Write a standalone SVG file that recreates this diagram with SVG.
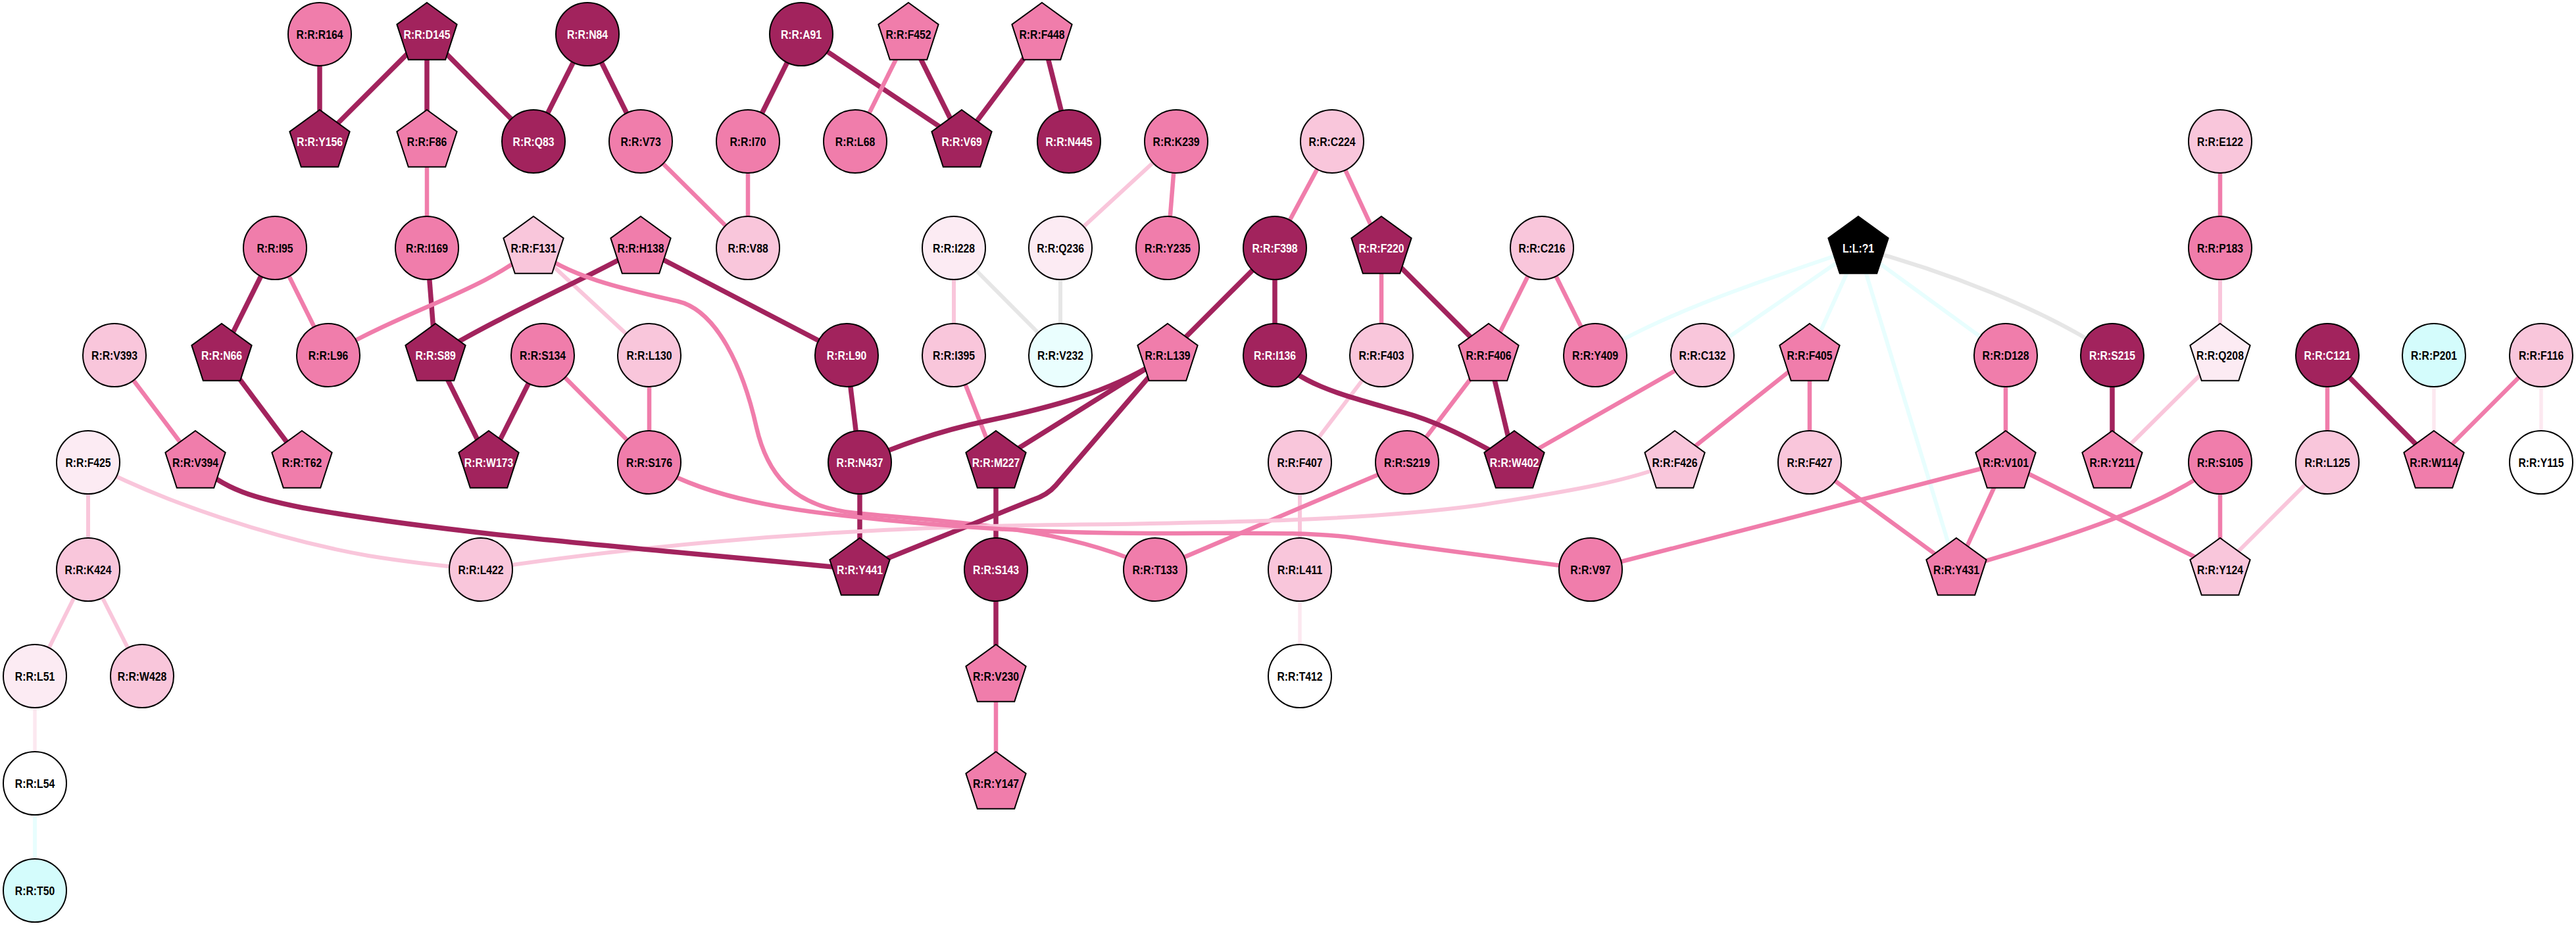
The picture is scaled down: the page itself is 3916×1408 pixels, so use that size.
<svg xmlns="http://www.w3.org/2000/svg" xmlns:xlink="http://www.w3.org/1999/xlink" width="3916" height="1408" viewBox="0 0 3916 1408">
<style>
#edges line, #edges path { fill:none; stroke-linecap:butt; stroke-linejoin:round; }
.ed{stroke:#A2235D;stroke-width:7.5}
.em{stroke:#F07DAB;stroke-width:6.5}
.el{stroke:#F9C6DB;stroke-width:6}
.ev{stroke:#FCE8F0;stroke-width:5.5}
.eg{stroke:#E6E6E6;stroke-width:6}
.ec{stroke:#E8FEFE;stroke-width:6}
#nodes circle, #nodes use { stroke:#000; stroke-width:2; }
.fd{fill:#A2235D}.fm{fill:#F07DAB}.fl{fill:#F9C6DB}.fv{fill:#FCEBF3}.fw{fill:#FFFFFF}.fc{fill:#D4FCFC}.fcc{fill:#EAFEFE}.fk{fill:#000000}
text{font-family:"Liberation Sans Narrow","Liberation Sans",Arial,sans-serif;font-weight:bold;font-size:19px;text-anchor:middle;fill:#000;transform-box:fill-box;transform-origin:center;transform:scaleX(0.83)}
text.tw{fill:#FFFFFF}
</style>
<defs>
<polygon id="p" points="0,-48 45.65,-14.83 28.21,38.83 -28.21,38.83 -45.65,-14.83"/>
</defs>
<rect width="3916" height="1408" fill="#FFFFFF"/>
<g id="edges">
<line class="ed" x1="486" y1="52" x2="486" y2="215"/>
<line class="ed" x1="649" y1="52" x2="486" y2="215"/>
<line class="ed" x1="649" y1="52" x2="649" y2="215"/>
<line class="ed" x1="649" y1="52" x2="811" y2="215"/>
<line class="ed" x1="893" y1="52" x2="811" y2="215"/>
<line class="ed" x1="893" y1="52" x2="974" y2="215"/>
<line class="ed" x1="1218" y1="52" x2="1137" y2="215"/>
<line class="ed" x1="1218" y1="52" x2="1462" y2="215"/>
<line class="em" x1="1381" y1="52" x2="1300" y2="215"/>
<line class="ed" x1="1381" y1="52" x2="1462" y2="215"/>
<line class="ed" x1="1584" y1="52" x2="1462" y2="215"/>
<line class="ed" x1="1584" y1="52" x2="1625" y2="215"/>
<line class="em" x1="974" y1="215" x2="1137" y2="377"/>
<line class="em" x1="1137" y1="215" x2="1137" y2="377"/>
<line class="el" x1="1788" y1="215" x2="1612" y2="377"/>
<line class="em" x1="1788" y1="215" x2="1775" y2="377"/>
<line class="em" x1="2025" y1="215" x2="1938" y2="377"/>
<line class="em" x1="2025" y1="215" x2="2100" y2="377"/>
<line class="em" x1="649" y1="215" x2="649" y2="377"/>
<line class="em" x1="3375" y1="215" x2="3375" y2="377"/>
<line class="ed" x1="418" y1="377" x2="337" y2="540"/>
<line class="em" x1="418" y1="377" x2="499" y2="540"/>
<line class="ed" x1="649" y1="377" x2="662" y2="540"/>
<line class="el" x1="811" y1="377" x2="987" y2="540"/>
<line class="ed" x1="974" y1="377" x2="1287" y2="540"/>
<line class="el" x1="1450" y1="377" x2="1450" y2="540"/>
<line class="eg" x1="1450" y1="377" x2="1612" y2="540"/>
<line class="eg" x1="1612" y1="377" x2="1612" y2="540"/>
<line class="ed" x1="1938" y1="377" x2="1775" y2="540"/>
<line class="ed" x1="1938" y1="377" x2="1938" y2="540"/>
<line class="em" x1="2100" y1="377" x2="2100" y2="540"/>
<line class="ed" x1="2100" y1="377" x2="2263" y2="540"/>
<line class="em" x1="2344" y1="377" x2="2263" y2="540"/>
<line class="em" x1="2344" y1="377" x2="2425" y2="540"/>
<line class="el" x1="3375" y1="377" x2="3375" y2="540"/>
<line class="ec" x1="2825" y1="377" x2="2588" y2="540"/>
<line class="ec" x1="2825" y1="377" x2="2751" y2="540"/>
<line class="ec" x1="2825" y1="377" x2="3049" y2="540"/>
<line class="ec" x1="2825" y1="377" x2="2974" y2="866"/>
<path class="ec" d="M2825,377 C2700,420 2540,470 2425,540"/>
<path class="eg" d="M2825,377 C2950,410 3110,470 3211,540"/>
<line class="em" x1="174" y1="540" x2="297" y2="703"/>
<line class="ed" x1="337" y1="540" x2="459" y2="703"/>
<line class="ed" x1="662" y1="540" x2="743" y2="703"/>
<line class="ed" x1="825" y1="540" x2="743" y2="703"/>
<line class="em" x1="825" y1="540" x2="987" y2="703"/>
<line class="em" x1="987" y1="540" x2="987" y2="703"/>
<line class="ed" x1="1287" y1="540" x2="1307" y2="703"/>
<line class="em" x1="1450" y1="540" x2="1514" y2="703"/>
<line class="ed" x1="1775" y1="540" x2="1514" y2="703"/>
<line class="el" x1="2100" y1="540" x2="1976" y2="703"/>
<line class="em" x1="2263" y1="540" x2="2139" y2="703"/>
<line class="ed" x1="2263" y1="540" x2="2302" y2="703"/>
<line class="em" x1="2588" y1="540" x2="2302" y2="703"/>
<line class="em" x1="2751" y1="540" x2="2546" y2="703"/>
<line class="em" x1="2751" y1="540" x2="2751" y2="703"/>
<line class="em" x1="3049" y1="540" x2="3049" y2="703"/>
<line class="ed" x1="3211" y1="540" x2="3211" y2="703"/>
<line class="el" x1="3375" y1="540" x2="3211" y2="703"/>
<line class="em" x1="3538" y1="540" x2="3538" y2="703"/>
<line class="ed" x1="3538" y1="540" x2="3700" y2="703"/>
<line class="ev" x1="3700" y1="540" x2="3700" y2="703"/>
<line class="em" x1="3863" y1="540" x2="3700" y2="703"/>
<line class="ev" x1="3863" y1="540" x2="3863" y2="703"/>
<path class="em" d="M811,377 C740,440 620,470 499,540"/>
<path class="ed" d="M974,377 C900,420 760,480 662,540"/>
<path class="em" d="M811,377 C860,420 950,440 1030,458 C1090,472 1130,560 1150,650 C1165,715 1200,770 1300,780 C1450,795 1620,800 1756,866"/>
<path class="ed" d="M1775,540 C1700,590 1620,615 1500,640 C1420,657 1360,680 1307,703"/>
<path class="ed" d="M1775,540 L1605,738 Q1592,753 1570,760 L1307,866"/>
<path class="ed" d="M1938,540 C1980,590 2060,605 2150,632 C2220,655 2270,690 2302,703"/>
<line class="el" x1="134" y1="703" x2="134" y2="866"/>
<line class="ed" x1="1307" y1="703" x2="1307" y2="866"/>
<line class="ed" x1="1514" y1="703" x2="1514" y2="866"/>
<line class="el" x1="1976" y1="703" x2="1976" y2="866"/>
<line class="em" x1="2139" y1="703" x2="1756" y2="866"/>
<line class="em" x1="2751" y1="703" x2="2974" y2="866"/>
<line class="em" x1="3049" y1="703" x2="2974" y2="866"/>
<line class="em" x1="3049" y1="703" x2="3375" y2="866"/>
<line class="em" x1="3049" y1="703" x2="2418" y2="866"/>
<line class="em" x1="3375" y1="703" x2="3375" y2="866"/>
<line class="el" x1="3538" y1="703" x2="3375" y2="866"/>
<path class="em" d="M3375,703 C3290,770 3150,815 2974,866"/>
<path class="el" d="M134,703 C250,765 420,820 560,845 C640,858 690,862 731,866"/>
<path class="el" d="M731,866 C900,840 1200,805 1550,799 C1800,795 2050,795 2250,768 C2400,745 2480,730 2546,703"/>
<path class="ed" d="M297,703 C340,745 390,758 460,772 C700,815 1000,835 1307,866"/>
<path class="em" d="M987,703 C1050,745 1150,770 1283,784 C1450,803 1600,811 1750,811 C1900,811 1990,808 2060,818 C2200,838 2300,850 2418,866"/>
<line class="el" x1="134" y1="866" x2="53" y2="1028"/>
<line class="el" x1="134" y1="866" x2="216" y2="1028"/>
<line class="ed" x1="1514" y1="866" x2="1514" y2="1028"/>
<line class="ev" x1="1976" y1="866" x2="1976" y2="1028"/>
<line class="em" x1="1514" y1="1028" x2="1514" y2="1191"/>
<line class="ev" x1="53" y1="1028" x2="53" y2="1191"/>
<line class="ec" x1="53" y1="1191" x2="53" y2="1354"/>
</g>
<g id="nodes">
<g id="n-R164"><circle class="fm" cx="486" cy="52" r="48"/><text x="486" y="59">R:R:R164</text></g>
<g id="n-D145"><use href="#p" xlink:href="#p" x="649" y="52" class="fd"/><text class="tw" x="649" y="59">R:R:D145</text></g>
<g id="n-N84"><circle class="fd" cx="893" cy="52" r="48"/><text class="tw" x="893" y="59">R:R:N84</text></g>
<g id="n-A91"><circle class="fd" cx="1218" cy="52" r="48"/><text class="tw" x="1218" y="59">R:R:A91</text></g>
<g id="n-F452"><use href="#p" xlink:href="#p" x="1381" y="52" class="fm"/><text x="1381" y="59">R:R:F452</text></g>
<g id="n-F448"><use href="#p" xlink:href="#p" x="1584" y="52" class="fm"/><text x="1584" y="59">R:R:F448</text></g>

<g id="n-Y156"><use href="#p" xlink:href="#p" x="486" y="215" class="fd"/><text class="tw" x="486" y="222">R:R:Y156</text></g>
<g id="n-F86"><use href="#p" xlink:href="#p" x="649" y="215" class="fm"/><text x="649" y="222">R:R:F86</text></g>
<g id="n-Q83"><circle class="fd" cx="811" cy="215" r="48"/><text class="tw" x="811" y="222">R:R:Q83</text></g>
<g id="n-V73"><circle class="fm" cx="974" cy="215" r="48"/><text x="974" y="222">R:R:V73</text></g>
<g id="n-I70"><circle class="fm" cx="1137" cy="215" r="48"/><text x="1137" y="222">R:R:I70</text></g>
<g id="n-L68"><circle class="fm" cx="1300" cy="215" r="48"/><text x="1300" y="222">R:R:L68</text></g>
<g id="n-V69"><use href="#p" xlink:href="#p" x="1462" y="215" class="fd"/><text class="tw" x="1462" y="222">R:R:V69</text></g>
<g id="n-N445"><circle class="fd" cx="1625" cy="215" r="48"/><text class="tw" x="1625" y="222">R:R:N445</text></g>
<g id="n-K239"><circle class="fm" cx="1788" cy="215" r="48"/><text x="1788" y="222">R:R:K239</text></g>
<g id="n-C224"><circle class="fl" cx="2025" cy="215" r="48"/><text x="2025" y="222">R:R:C224</text></g>
<g id="n-E122"><circle class="fl" cx="3375" cy="215" r="48"/><text x="3375" y="222">R:R:E122</text></g>

<g id="n-I95"><circle class="fm" cx="418" cy="377" r="48"/><text x="418" y="384">R:R:I95</text></g>
<g id="n-I169"><circle class="fm" cx="649" cy="377" r="48"/><text x="649" y="384">R:R:I169</text></g>
<g id="n-F131"><use href="#p" xlink:href="#p" x="811" y="377" class="fl"/><text x="811" y="384">R:R:F131</text></g>
<g id="n-H138"><use href="#p" xlink:href="#p" x="974" y="377" class="fm"/><text x="974" y="384">R:R:H138</text></g>
<g id="n-V88"><circle class="fl" cx="1137" cy="377" r="48"/><text x="1137" y="384">R:R:V88</text></g>
<g id="n-I228"><circle class="fv" cx="1450" cy="377" r="48"/><text x="1450" y="384">R:R:I228</text></g>
<g id="n-Q236"><circle class="fv" cx="1612" cy="377" r="48"/><text x="1612" y="384">R:R:Q236</text></g>
<g id="n-Y235"><circle class="fm" cx="1775" cy="377" r="48"/><text x="1775" y="384">R:R:Y235</text></g>
<g id="n-F398"><circle class="fd" cx="1938" cy="377" r="48"/><text class="tw" x="1938" y="384">R:R:F398</text></g>
<g id="n-F220"><use href="#p" xlink:href="#p" x="2100" y="377" class="fd"/><text class="tw" x="2100" y="384">R:R:F220</text></g>
<g id="n-C216"><circle class="fl" cx="2344" cy="377" r="48"/><text x="2344" y="384">R:R:C216</text></g>
<g id="n-L1"><use href="#p" xlink:href="#p" x="2825" y="377" class="fk"/><text class="tw" x="2825" y="384">L:L:?1</text></g>
<g id="n-P183"><circle class="fm" cx="3375" cy="377" r="48"/><text x="3375" y="384">R:R:P183</text></g>

<g id="n-V393"><circle class="fl" cx="174" cy="540" r="48"/><text x="174" y="547">R:R:V393</text></g>
<g id="n-N66"><use href="#p" xlink:href="#p" x="337" y="540" class="fd"/><text class="tw" x="337" y="547">R:R:N66</text></g>
<g id="n-L96"><circle class="fm" cx="499" cy="540" r="48"/><text x="499" y="547">R:R:L96</text></g>
<g id="n-S89"><use href="#p" xlink:href="#p" x="662" y="540" class="fd"/><text class="tw" x="662" y="547">R:R:S89</text></g>
<g id="n-S134"><circle class="fm" cx="825" cy="540" r="48"/><text x="825" y="547">R:R:S134</text></g>
<g id="n-L130"><circle class="fl" cx="987" cy="540" r="48"/><text x="987" y="547">R:R:L130</text></g>
<g id="n-L90"><circle class="fd" cx="1287" cy="540" r="48"/><text class="tw" x="1287" y="547">R:R:L90</text></g>
<g id="n-I395"><circle class="fl" cx="1450" cy="540" r="48"/><text x="1450" y="547">R:R:I395</text></g>
<g id="n-V232"><circle class="fcc" cx="1612" cy="540" r="48"/><text x="1612" y="547">R:R:V232</text></g>
<g id="n-L139"><use href="#p" xlink:href="#p" x="1775" y="540" class="fm"/><text x="1775" y="547">R:R:L139</text></g>
<g id="n-I136"><circle class="fd" cx="1938" cy="540" r="48"/><text class="tw" x="1938" y="547">R:R:I136</text></g>
<g id="n-F403"><circle class="fl" cx="2100" cy="540" r="48"/><text x="2100" y="547">R:R:F403</text></g>
<g id="n-F406"><use href="#p" xlink:href="#p" x="2263" y="540" class="fm"/><text x="2263" y="547">R:R:F406</text></g>
<g id="n-Y409"><circle class="fm" cx="2425" cy="540" r="48"/><text x="2425" y="547">R:R:Y409</text></g>
<g id="n-C132"><circle class="fl" cx="2588" cy="540" r="48"/><text x="2588" y="547">R:R:C132</text></g>
<g id="n-F405"><use href="#p" xlink:href="#p" x="2751" y="540" class="fm"/><text x="2751" y="547">R:R:F405</text></g>
<g id="n-D128"><circle class="fm" cx="3049" cy="540" r="48"/><text x="3049" y="547">R:R:D128</text></g>
<g id="n-S215"><circle class="fd" cx="3211" cy="540" r="48"/><text class="tw" x="3211" y="547">R:R:S215</text></g>
<g id="n-Q208"><use href="#p" xlink:href="#p" x="3375" y="540" class="fv"/><text x="3375" y="547">R:R:Q208</text></g>
<g id="n-C121"><circle class="fd" cx="3538" cy="540" r="48"/><text class="tw" x="3538" y="547">R:R:C121</text></g>
<g id="n-P201"><circle class="fc" cx="3700" cy="540" r="48"/><text x="3700" y="547">R:R:P201</text></g>
<g id="n-F116"><circle class="fl" cx="3863" cy="540" r="48"/><text x="3863" y="547">R:R:F116</text></g>

<g id="n-F425"><circle class="fv" cx="134" cy="703" r="48"/><text x="134" y="710">R:R:F425</text></g>
<g id="n-V394"><use href="#p" xlink:href="#p" x="297" y="703" class="fm"/><text x="297" y="710">R:R:V394</text></g>
<g id="n-T62"><use href="#p" xlink:href="#p" x="459" y="703" class="fm"/><text x="459" y="710">R:R:T62</text></g>
<g id="n-W173"><use href="#p" xlink:href="#p" x="743" y="703" class="fd"/><text class="tw" x="743" y="710">R:R:W173</text></g>
<g id="n-S176"><circle class="fm" cx="987" cy="703" r="48"/><text x="987" y="710">R:R:S176</text></g>
<g id="n-N437"><circle class="fd" cx="1307" cy="703" r="48"/><text class="tw" x="1307" y="710">R:R:N437</text></g>
<g id="n-M227"><use href="#p" xlink:href="#p" x="1514" y="703" class="fd"/><text class="tw" x="1514" y="710">R:R:M227</text></g>
<g id="n-F407"><circle class="fl" cx="1976" cy="703" r="48"/><text x="1976" y="710">R:R:F407</text></g>
<g id="n-S219"><circle class="fm" cx="2139" cy="703" r="48"/><text x="2139" y="710">R:R:S219</text></g>
<g id="n-W402"><use href="#p" xlink:href="#p" x="2302" y="703" class="fd"/><text class="tw" x="2302" y="710">R:R:W402</text></g>
<g id="n-F426"><use href="#p" xlink:href="#p" x="2546" y="703" class="fl"/><text x="2546" y="710">R:R:F426</text></g>
<g id="n-F427"><circle class="fl" cx="2751" cy="703" r="48"/><text x="2751" y="710">R:R:F427</text></g>
<g id="n-V101"><use href="#p" xlink:href="#p" x="3049" y="703" class="fm"/><text x="3049" y="710">R:R:V101</text></g>
<g id="n-Y211"><use href="#p" xlink:href="#p" x="3211" y="703" class="fm"/><text x="3211" y="710">R:R:Y211</text></g>
<g id="n-S105"><circle class="fm" cx="3375" cy="703" r="48"/><text x="3375" y="710">R:R:S105</text></g>
<g id="n-L125"><circle class="fl" cx="3538" cy="703" r="48"/><text x="3538" y="710">R:R:L125</text></g>
<g id="n-W114"><use href="#p" xlink:href="#p" x="3700" y="703" class="fm"/><text x="3700" y="710">R:R:W114</text></g>
<g id="n-Y115"><circle class="fw" cx="3863" cy="703" r="48"/><text x="3863" y="710">R:R:Y115</text></g>

<g id="n-K424"><circle class="fl" cx="134" cy="866" r="48"/><text x="134" y="873">R:R:K424</text></g>
<g id="n-L422"><circle class="fl" cx="731" cy="866" r="48"/><text x="731" y="873">R:R:L422</text></g>
<g id="n-Y441"><use href="#p" xlink:href="#p" x="1307" y="866" class="fd"/><text class="tw" x="1307" y="873">R:R:Y441</text></g>
<g id="n-S143"><circle class="fd" cx="1514" cy="866" r="48"/><text class="tw" x="1514" y="873">R:R:S143</text></g>
<g id="n-T133"><circle class="fm" cx="1756" cy="866" r="48"/><text x="1756" y="873">R:R:T133</text></g>
<g id="n-L411"><circle class="fl" cx="1976" cy="866" r="48"/><text x="1976" y="873">R:R:L411</text></g>
<g id="n-V97"><circle class="fm" cx="2418" cy="866" r="48"/><text x="2418" y="873">R:R:V97</text></g>
<g id="n-Y431"><use href="#p" xlink:href="#p" x="2974" y="866" class="fm"/><text x="2974" y="873">R:R:Y431</text></g>
<g id="n-Y124"><use href="#p" xlink:href="#p" x="3375" y="866" class="fl"/><text x="3375" y="873">R:R:Y124</text></g>

<g id="n-L51"><circle class="fv" cx="53" cy="1028" r="48"/><text x="53" y="1035">R:R:L51</text></g>
<g id="n-W428"><circle class="fl" cx="216" cy="1028" r="48"/><text x="216" y="1035">R:R:W428</text></g>
<g id="n-V230"><use href="#p" xlink:href="#p" x="1514" y="1028" class="fm"/><text x="1514" y="1035">R:R:V230</text></g>
<g id="n-T412"><circle class="fw" cx="1976" cy="1028" r="48"/><text x="1976" y="1035">R:R:T412</text></g>

<g id="n-L54"><circle class="fw" cx="53" cy="1191" r="48"/><text x="53" y="1198">R:R:L54</text></g>
<g id="n-Y147"><use href="#p" xlink:href="#p" x="1514" y="1191" class="fm"/><text x="1514" y="1198">R:R:Y147</text></g>

<g id="n-T50"><circle class="fc" cx="53" cy="1354" r="48"/><text x="53" y="1361">R:R:T50</text></g>
</g>
</svg>
